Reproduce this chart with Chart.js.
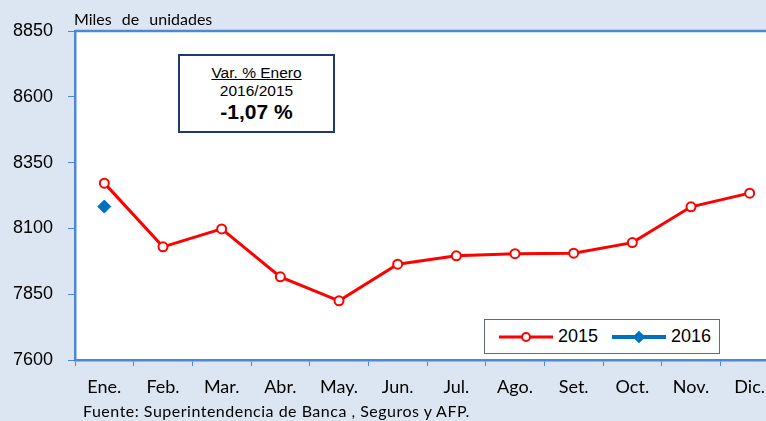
<!DOCTYPE html>
<html>
<head>
<meta charset="utf-8">
<script src="https://cdn.jsdelivr.net/npm/chart.js@4.4.1/dist/chart.umd.min.js"></script>
<style>
    html, body { margin: 0; padding: 0; overflow: hidden; background: #dce6f2; }
    #wrap { position: relative; width: 800px; height: 421px; }
    #unit { position: absolute; left: 74px; top: 9px; font: 16px Lato, sans-serif; word-spacing: 6px; color: #000; }
    #note {
        position: absolute; left: 178px; top: 54px; width: 157px; height: 79px;
        box-sizing: border-box; border: 2px solid #1f3a6e; background: #fff;
        text-align: center; font-family: "Liberation Sans", Arial, sans-serif; color: #000;
    }
    #note .l1 { font-size: 15.5px; margin-top: 8px; line-height: 18px; }
    #note .l1 span { text-decoration: underline; }
    #note .l2 { font-size: 15.5px; line-height: 18px; }
    #note .l3 { font-size: 21px; font-weight: bold; line-height: 24px; }
    #legend {
        position: absolute; left: 484px; top: 319px; width: 236px; height: 35px;
        box-sizing: border-box; border: 1.5px solid #5f6a7d; background: #fff;
        display: flex; align-items: center; padding-left: 14px;
        font: 18px "Liberation Sans", Arial, sans-serif;
    }
    #legend .item { display: flex; align-items: center; margin-right: 14px; }
    #legend .sym { position: relative; width: 54px; height: 12px; margin-right: 5px; }
    #legend .sym .ln { position: absolute; left: 0; right: 0; top: 50%; transform: translateY(-50%); }
    #legend .sym .mk { position: absolute; left: 50%; top: 50%; box-sizing: border-box; }
    #source { position: absolute; left: 83px; top: 401px; font: 16px Lato, sans-serif; letter-spacing: 0.5px; color: #000; }
</style>
</head>
<body>
<div id="wrap">
    <canvas id="chart" width="800" height="421"></canvas>
    <div id="unit">Miles de unidades</div>
    <div id="note">
        <div class="l1"><span>Var. % Enero</span></div>
        <div class="l2">2016/2015</div>
        <div class="l3">-1,07 %</div>
    </div>
    <div id="legend"></div>
    <div id="source">Fuente: Superintendencia de Banca , Seguros y AFP.</div>
</div>
<script>
    const months = ["Ene.", "Feb.", "Mar.", "Abr.", "May.", "Jun.", "Jul.", "Ago.", "Set.", "Oct.", "Nov.", "Dic."];
    const values2015 = [8272, 8030, 8098, 7916, 7825, 7964, 7996, 8004, 8006, 8046, 8182, 8234];
    const values2016 = [8183];
    const yMin = 7600;
    const yMax = 8850;
    const yStep = 250;

    const axisBlue = "#4f88d2";

    // background + white plot area + top frame line
    const framePlugin = {
        id: "frame",
        beforeDraw(chart) {
            const { ctx, chartArea: a } = chart;
            ctx.save();
            ctx.fillStyle = "#dce6f2";
            ctx.fillRect(0, 0, chart.width, chart.height);
            ctx.fillStyle = "#ffffff";
            ctx.fillRect(a.left, a.top, a.right - a.left, a.bottom - a.top);
            ctx.restore();
        },
        afterDraw(chart) {
            const { ctx, chartArea: a } = chart;
            ctx.save();
            ctx.strokeStyle = axisBlue;
            ctx.lineWidth = 2.5;
            ctx.beginPath();
            ctx.moveTo(a.left, a.top);
            ctx.lineTo(chart.width, a.top);
            ctx.stroke();
            ctx.restore();
        },
    };

    const chart = new Chart(document.getElementById("chart"), {
        type: "line",
        data: {
            labels: months,
            datasets: [
                {
                    label: "2015",
                    data: values2015,
                    borderColor: "#ff0000",
                    borderWidth: 3,
                    pointStyle: "circle",
                    pointRadius: 4.5,
                    pointBorderWidth: 2,
                    pointBackgroundColor: "#ffffff",
                    pointBorderColor: "#ff0000",
                    tension: 0,
                },
                {
                    label: "2016",
                    data: values2016,
                    borderColor: "#0070c0",
                    backgroundColor: "#0070c0",
                    borderWidth: 4,
                    pointStyle: "rectRot",
                    pointRadius: 6.5,
                    pointBorderWidth: 1,
                    pointBackgroundColor: "#0070c0",
                    pointBorderColor: "#0070c0",
                },
            ],
        },
        options: {
            responsive: false,
            animation: false,
            devicePixelRatio: 1,
            layout: { padding: { top: 31, right: 21, left: 0, bottom: 0 } },
            plugins: {
                legend: { display: false },
                tooltip: { enabled: false },
            },
            scales: {
                x: {
                    offset: true,
                    grid: {
                        offset: true,
                        drawOnChartArea: false,
                        drawTicks: true,
                        tickLength: 6,
                        color: axisBlue,
                        lineWidth: 1,
                    },
                    border: { display: true, color: axisBlue, width: 2.5 },
                    ticks: {
                        color: "#000",
                        padding: 10,
                        maxRotation: 0,
                        autoSkip: false,
                        font: { family: "Lato", size: 18 },
                    },
                    afterFit(scale) { scale.height = 61; },
                },
                y: {
                    min: yMin,
                    max: yMax,
                    grid: {
                        drawOnChartArea: false,
                        drawTicks: true,
                        tickLength: 7,
                        color: axisBlue,
                        lineWidth: 1,
                    },
                    border: { display: true, color: axisBlue, width: 2.5 },
                    ticks: {
                        stepSize: yStep,
                        color: "#000",
                        padding: 15,
                        font: { family: "Liberation Sans", size: 18 },
                        callback: (v) => String(v),
                    },
                    afterFit(scale) { scale.width = 75; },
                },
            },
        },
        plugins: [framePlugin],
    });

    // legend in a bordered box, built from the datasets
    const legendEl = document.getElementById("legend");
    chart.data.datasets.forEach((ds) => {
        const item = document.createElement("div");
        item.className = "item";
        const sym = document.createElement("div");
        sym.className = "sym";
        const ln = document.createElement("div");
        ln.className = "ln";
        ln.style.height = ds.borderWidth + "px";
        ln.style.background = ds.borderColor;
        const mk = document.createElement("div");
        mk.className = "mk";
        if (ds.pointStyle === "rectRot") {
            mk.style.width = "9px";
            mk.style.height = "9px";
            mk.style.background = ds.pointBackgroundColor;
            mk.style.transform = "translate(-50%,-50%) rotate(45deg)";
        } else {
            mk.style.width = "10px";
            mk.style.height = "10px";
            mk.style.borderRadius = "50%";
            mk.style.border = "2px solid " + ds.pointBorderColor;
            mk.style.background = ds.pointBackgroundColor;
            mk.style.transform = "translate(-50%,-50%)";
        }
        sym.appendChild(ln);
        sym.appendChild(mk);
        const txt = document.createElement("span");
        txt.textContent = ds.label;
        item.appendChild(sym);
        item.appendChild(txt);
        legendEl.appendChild(item);
    });
</script>
</body>
</html>
